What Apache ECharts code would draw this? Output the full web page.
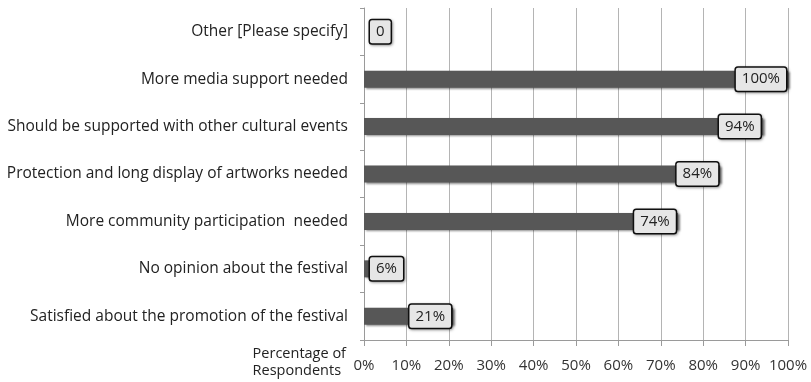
<!DOCTYPE html>
<html>
<head>
<meta charset="utf-8">
<script src="https://cdn.jsdelivr.net/npm/echarts@6/dist/echarts.min.js"></script>
<style>
  html, body { margin: 0; padding: 0; background: #fff; }
  #chart { width: 811px; height: 382px; }
</style>
</head>
<body>
<div id="chart"></div>
<script>
// categories top to bottom
const categories = [
  'Other [Please specify]',
  'More media support needed',
  'Should be supported with other cultural events',
  'Protection and long display of artworks needed',
  'More community participation  needed',
  'No opinion about the festival',
  'Satisfied about the promotion of the festival'
]
const values = [0, 100, 94, 84, 74, 6, 21]
const valueLabels = ['0', '100%', '94%', '84%', '74%', '6%', '21%']
const xTicks = [0, 10, 20, 30, 40, 50, 60, 70, 80, 90, 100]

const FONT = '"Open Sans", sans-serif'

const chart = echarts.init(document.getElementById('chart'))

const labelBox = {
  show: true,
  position: 'insideRight',
  distance: 2,
  fontFamily: FONT,
  fontSize: 15,
  color: '#222',
  backgroundColor: '#e6e6e6',
  borderColor: '#111',
  borderWidth: 1.5,
  borderRadius: 2,
  padding: [5, 6, 3, 6],
  shadowColor: 'rgba(0,0,0,0.35)',
  shadowBlur: 3,
  shadowOffsetX: 1,
  shadowOffsetY: 1
}

chart.setOption({
  animation: false,
  grid: {
    left: 364,
    right: 23,
    top: 8,
    bottom: 42
  },
  xAxis: {
    type: 'value',
    min: 0,
    max: 100,
    interval: 10,
    axisLine: { show: true, lineStyle: { color: '#9a9a9a', width: 1 } },
    axisTick: { show: true, length: 6, lineStyle: { color: '#9a9a9a' } },
    splitLine: { show: true, lineStyle: { color: '#b4b4b4', width: 1 } },
    axisLabel: {
      fontFamily: FONT,
      fontSize: 15,
      color: '#333',
      margin: 18,
      formatter: v => xTicks.includes(v) ? v + '%' : ''
    }
  },
  yAxis: {
    type: 'category',
    inverse: true,
    data: categories,
    axisLine: { show: true, lineStyle: { color: '#9a9a9a', width: 1 } },
    axisTick: { show: true, length: 4, lineStyle: { color: '#9a9a9a' } },
    axisLabel: {
      fontFamily: FONT,
      fontSize: 15.5,
      color: '#222',
      margin: 16
    }
  },
  graphic: [{
    type: 'text',
    right: 811 - 346,
    top: 345,
    style: {
      text: 'Percentage of\nRespondents',
      fontFamily: FONT,
      fontSize: 14.5,
      lineHeight: 17,
      fill: '#222',
      align: 'right'
    }
  }],
  series: [{
    type: 'bar',
    barWidth: 17,
    data: values.map((v, i) => ({
      value: v,
      label: v < 10 ? { position: 'insideLeft', distance: 6 } : {}
    })),
    itemStyle: {
      color: '#575757',
      shadowColor: 'rgba(0,0,0,0.45)',
      shadowBlur: 2,
      shadowOffsetX: 2,
      shadowOffsetY: 1
    },
    label: Object.assign({}, labelBox, {
      formatter: p => valueLabels[p.dataIndex]
    })
  }]
})

window.addEventListener('resize', () => {
  chart.resize()
})
</script>
</body>
</html>
